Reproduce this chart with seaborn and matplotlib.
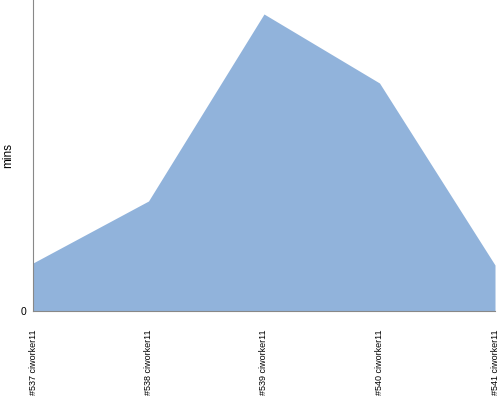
import matplotlib
matplotlib.use("Agg")
import matplotlib.pyplot as plt
import seaborn as sns
import pandas as pd

categories = ["#537 ciworker11", "#538 ciworker11", "#539 ciworker11", "#540 ciworker11", "#541 ciworker11"]
mins = [4.8, 11.0, 29.7, 22.8, 4.6]

sns.set_style("white")
plt.rcParams["font.family"] = ["Liberation Sans Narrow", "Liberation Sans", "DejaVu Sans"]
df = pd.DataFrame({"idx": range(len(categories)), "mins": mins})

fig = plt.figure(figsize=(5, 4), dpi=100)
ax = fig.add_axes([0.066, 0.2225, 0.924, 0.7775])
sns.lineplot(data=df, x="idx", y="mins", ax=ax, color="#91B3DB", linewidth=0)
ax.fill_between(df["idx"], 0, df["mins"], color="#91B3DB", linewidth=0)

ax.set_xlim(0, len(categories) - 1)
ax.set_ylim(0, 31.1)
ax.set_yticks([0])
ax.set_yticklabels(["0"], fontsize=7.5, color="black", family=["Liberation Sans", "DejaVu Sans"])
ax.set_xticks(range(len(categories)))
ax.set_xticklabels(categories, rotation=90, fontsize=6.5, color="black")
ax.set_xlabel("")
ax.set_ylabel("mins", fontsize=8.5, color="black", family=["Liberation Sans", "DejaVu Sans"])
ax.yaxis.set_label_coords(-0.04, 0.5)
for s in ["top", "right"]:
    ax.spines[s].set_visible(False)
for s in ["left", "bottom"]:
    ax.spines[s].set_color("#888888")
    ax.spines[s].set_linewidth(0.8)
ax.tick_params(axis="y", length=3, color="#888888", pad=2)
ax.tick_params(axis="x", length=0, pad=13)

fig.savefig("out.png", dpi=100)
